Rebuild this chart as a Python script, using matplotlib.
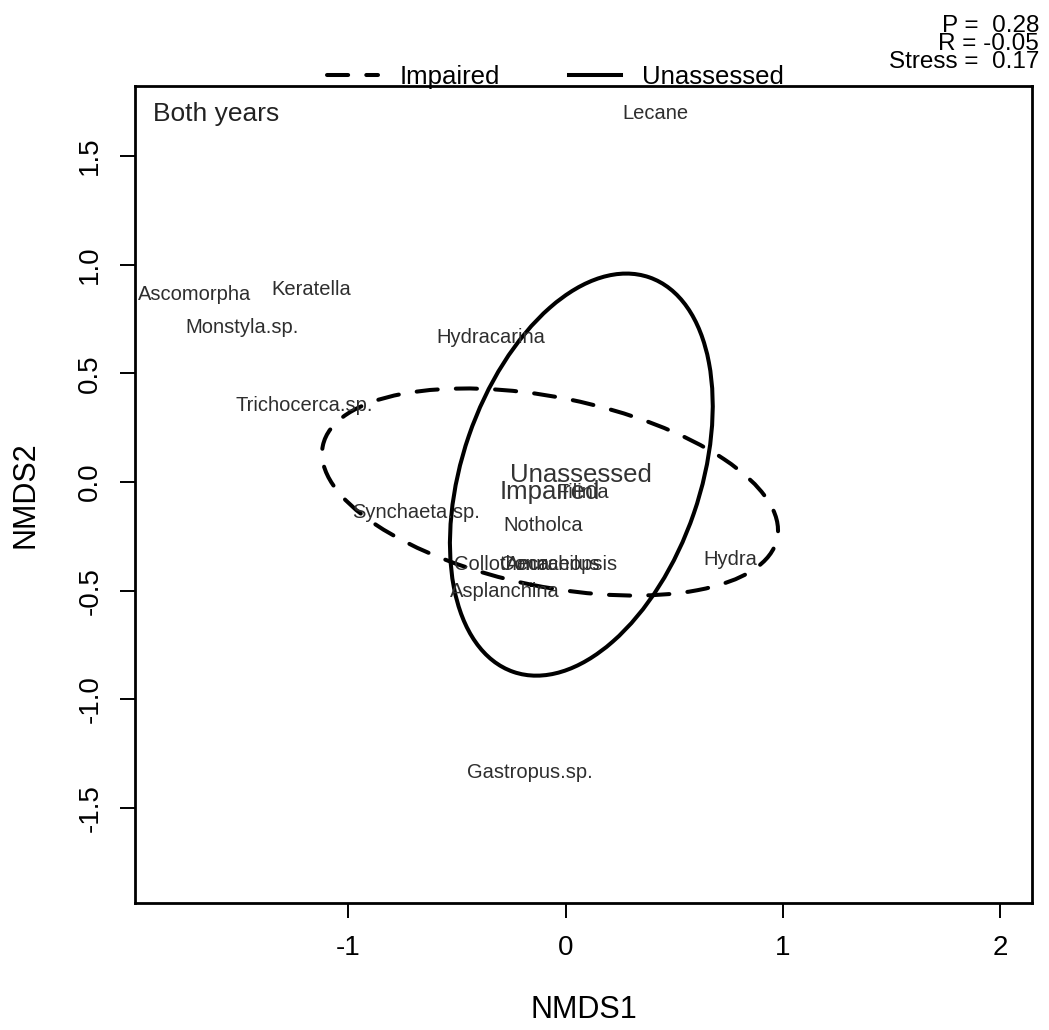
import matplotlib
matplotlib.use("Agg")
import matplotlib.pyplot as plt
from matplotlib.patches import Ellipse
from matplotlib.lines import Line2D

plt.rcParams['font.family'] = ['Liberation Sans', 'DejaVu Sans']
plt.rcParams['axes.unicode_minus'] = False

# species scores (NMDS1, NMDS2)
species = ['Lecane', 'Ascomorpha', 'Keratella', 'Monstyla.sp.', 'Hydracarina',
           'Trichocerca.sp.', 'Synchaeta.sp.', 'Filinia', 'Notholca',
           'Collotheca', 'Conochilus', 'Anuraeopsis', 'Hydra', 'Asplanchina',
           'Gastropus.sp.']
sp_x = [0.411, -1.706, -1.171, -1.490, -0.344, -1.205, -0.689, 0.080, -0.104,
        -0.293, -0.072, -0.019, 0.758, -0.280, -0.167]
sp_y = [1.694, 0.863, 0.884, 0.711, 0.663, 0.350, -0.140, -0.048, -0.200,
        -0.380, -0.380, -0.380, -0.357, -0.504, -1.337]

# group ellipses: centre, full axes lengths, rotation
groups = ['Impaired', 'Unassessed']
grp_x = [-0.072, 0.072]
grp_y = [-0.046, 0.034]
grp_w = [2.134, 1.920]
grp_h = [0.870, 1.095]
grp_angle = [-11.5, 71.0]
grp_style = [(0, (5.25, 4.5)), '-']

stats = ['P =  0.28', 'R = -0.05', 'Stress =  0.17']

fig = plt.figure(figsize=(10.49, 10.30), dpi=100)
ax = fig.add_axes([0.1287, 0.1233, 0.8551, 0.7932])

for x, y, name in zip(sp_x, sp_y, species):
    ax.text(x, y, name, ha='center', va='center', fontsize=14.5, color='#2e2e2e')

for i, g in enumerate(groups):
    e = Ellipse((grp_x[i], grp_y[i]), grp_w[i], grp_h[i], angle=grp_angle[i],
                fill=False, lw=2.9, ec='black', ls=grp_style[i])
    e.set_capstyle('round')
    ax.add_patch(e)
    ax.text(grp_x[i], grp_y[i], g, ha='center', va='center', fontsize=18.5,
            color='#333333')

ax.text(0.020, 0.9657, 'Both years', transform=ax.transAxes, ha='left',
        va='center', fontsize=19, color='#222222')

ax.set_xlim(-1.982, 2.146)
ax.set_ylim(-1.937, 1.822)
ax.set_xticks([-1, 0, 1, 2])
ax.set_yticks([-1.5, -1.0, -0.5, 0.0, 0.5, 1.0, 1.5])
ax.set_yticklabels(['-1.5', '-1.0', '-0.5', '0.0', '0.5', '1.0', '1.5'],
                   rotation=90, va='center')
ax.tick_params(length=10.8, width=1.4, labelsize=20, pad=12)
for s in ax.spines.values():
    s.set_linewidth(2.0)

ax.set_xlabel('NMDS1', fontsize=22, va='center')
ax.xaxis.set_label_coords(0.5, -0.131)
ax.set_ylabel('NMDS2', fontsize=22, va='center')
ax.yaxis.set_label_coords(-0.1226, 0.5)

handles = [Line2D([], [], color='black', lw=2.9, ls=grp_style[0],
                  dash_capstyle='round'),
           Line2D([], [], color='black', lw=2.9, ls='-')]
fig.legend(handles, groups, loc='lower left', ncol=2, frameon=False,
           bbox_to_anchor=(327 / 1049, 1 - 89 / 1030), borderpad=0,
           borderaxespad=0, handlelength=2.0, handletextpad=0.82,
           columnspacing=2.7, fontsize=18.5)

for i, line in enumerate(stats):
    fig.text(1039 / 1049, 1 - (32 + 18 * i) / 1030, line, ha='right',
             va='baseline', fontsize=17.5)

fig.savefig('out.png', dpi=100)
